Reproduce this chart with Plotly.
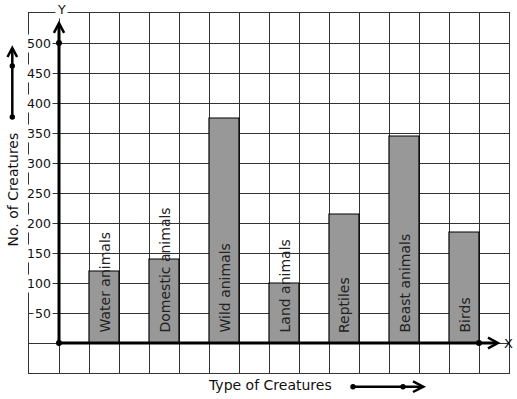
import plotly.graph_objects as go

categories = ["Water animals", "Domestic animals", "Wild animals", "Land animals",
              "Reptiles", "Beast animals", "Birds"]
values = [120, 140, 375, 100, 215, 345, 185]
y_tick_values = [50, 100, 150, 200, 250, 300, 350, 400, 450, 500]
y_tick_labels = [str(v) for v in y_tick_values]

OFF = 0   # body margin removed via post_script
W, H = 517, 399
PL, PT, PR, PB = 29, 13, 509, 373   # plot area in page pixels
PW, PH = PR - PL, PB - PT

def px(x):
    return (x - PL) / PW

def py(y):
    return (PB - y) / PH

FONT = "DejaVu Sans"
bar_x = [1.5 + 2 * i for i in range(len(categories))]

fig = go.Figure()
fig.add_trace(go.Bar(
    x=bar_x, y=values, width=1,
    marker=dict(color="#989898", line=dict(color="black", width=1.2)),
    hoverinfo="skip", showlegend=False,
))
fig.add_trace(go.Scatter(
    x=[0, 0, 14], y=[0, 500, 0], mode="markers",
    marker=dict(color="black", size=6), cliponaxis=False,
    hoverinfo="skip", showlegend=False,
))

shapes = []
shapes.append(dict(type="line", xref="x", yref="y", x0=0, y0=0, x1=14.6, y1=0,
                   line=dict(color="black", width=3)))
shapes.append(dict(type="line", xref="x", yref="y", x0=0, y0=0, x1=0, y1=532,
                   line=dict(color="black", width=3)))
shapes.append(dict(type="path", xref="x", yref="y",
                   path="M -0.17,517 L 0,533 L 0.17,517",
                   line=dict(color="black", width=2.5)))
shapes.append(dict(type="path", xref="x", yref="y",
                   path="M 14.3,9 L 14.63,0 L 14.3,-9",
                   line=dict(color="black", width=2.5)))

ax = 12.3
shapes.append(dict(type="line", xref="paper", yref="paper", x0=px(ax), y0=py(117),
                   x1=px(ax), y1=py(49), line=dict(color="black", width=2.5)))
shapes.append(dict(type="path", xref="paper", yref="paper",
                   path=f"M {px(ax-4.8)},{py(57)} L {px(ax)},{py(48)} L {px(ax+4.8)},{py(57)}",
                   line=dict(color="black", width=2.5)))
ay = 386.7
shapes.append(dict(type="line", xref="paper", yref="paper", x0=px(353), y0=py(ay),
                   x1=px(422), y1=py(ay), line=dict(color="black", width=2.5)))
shapes.append(dict(type="path", xref="paper", yref="paper",
                   path=f"M {px(413)},{py(ay-5.3)} L {px(423.3)},{py(ay)} L {px(413)},{py(ay+5.3)}",
                   line=dict(color="black", width=2.5)))
for (cx, cy) in [(ax, 117), (ax, 66), (353, ay), (403, ay)]:
    shapes.append(dict(type="circle", xref="paper", yref="paper",
                       x0=px(cx - 2.7), x1=px(cx + 2.7), y0=py(cy + 2.7), y1=py(cy - 2.7),
                       fillcolor="black", line=dict(color="black", width=0)))

annotations = []
for v, t in zip(y_tick_values, y_tick_labels):
    annotations.append(dict(x=0, y=v, xref="x", yref="y", text=t, showarrow=False,
                            xanchor="right", yanchor="middle", xshift=-6,
                            bgcolor="white", borderpad=1,
                            font=dict(family=FONT, size=12.5, color="#111111")))
for xv, name in zip(bar_x, categories):
    annotations.append(dict(x=xv, y=0, xref="x", yref="y", text=name, showarrow=False,
                            textangle=-90, xanchor="center", yanchor="bottom", yshift=8,
                            font=dict(family=FONT, size=14, color="#222222")))
annotations.append(dict(x=px(61.5), y=py(9), xref="paper", yref="paper", text="Y",
                        showarrow=False, xanchor="center", yanchor="middle",
                        bgcolor="white", borderpad=1,
                        font=dict(family=FONT, size=12.5, color="#111111")))
annotations.append(dict(x=px(508), y=py(343), xref="paper", yref="paper", text="X",
                        showarrow=False, xanchor="center", yanchor="middle",
                        font=dict(family=FONT, size=13, color="#111111")))
annotations.append(dict(x=px(270), y=py(385), xref="paper", yref="paper",
                        text="Type of Creatures", showarrow=False,
                        xanchor="center", yanchor="middle",
                        font=dict(family=FONT, size=14, color="#111111")))
annotations.append(dict(x=px(12.5), y=py(190), xref="paper", yref="paper",
                        text="No. of Creatures", showarrow=False, textangle=-90,
                        xanchor="center", yanchor="middle",
                        font=dict(family=FONT, size=14, color="#111111")))

fig.update_layout(
    width=W - OFF, height=H - OFF,
    margin=dict(l=PL - OFF, r=W - PR, t=PT - OFF, b=H - PB, pad=0),
    paper_bgcolor="white", plot_bgcolor="white",
    font=dict(family=FONT),
    shapes=shapes, annotations=annotations,
    xaxis=dict(range=[-1, 15], dtick=1, tick0=0, showgrid=True, gridcolor="#333333",
               gridwidth=1, zeroline=False, showticklabels=False, ticks="",
               showline=True, mirror=True, linecolor="#333333", linewidth=1, fixedrange=True),
    yaxis=dict(range=[-50, 550], dtick=50, tick0=0, showgrid=True, gridcolor="#333333",
               gridwidth=1, zeroline=False, showticklabels=False, ticks="",
               showline=True, mirror=True, linecolor="#333333", linewidth=1, fixedrange=True),
)

fig.write_html("out.html", config={"displayModeBar": False},
               post_script="document.body.style.margin='0px';document.body.style.overflow='hidden';")
